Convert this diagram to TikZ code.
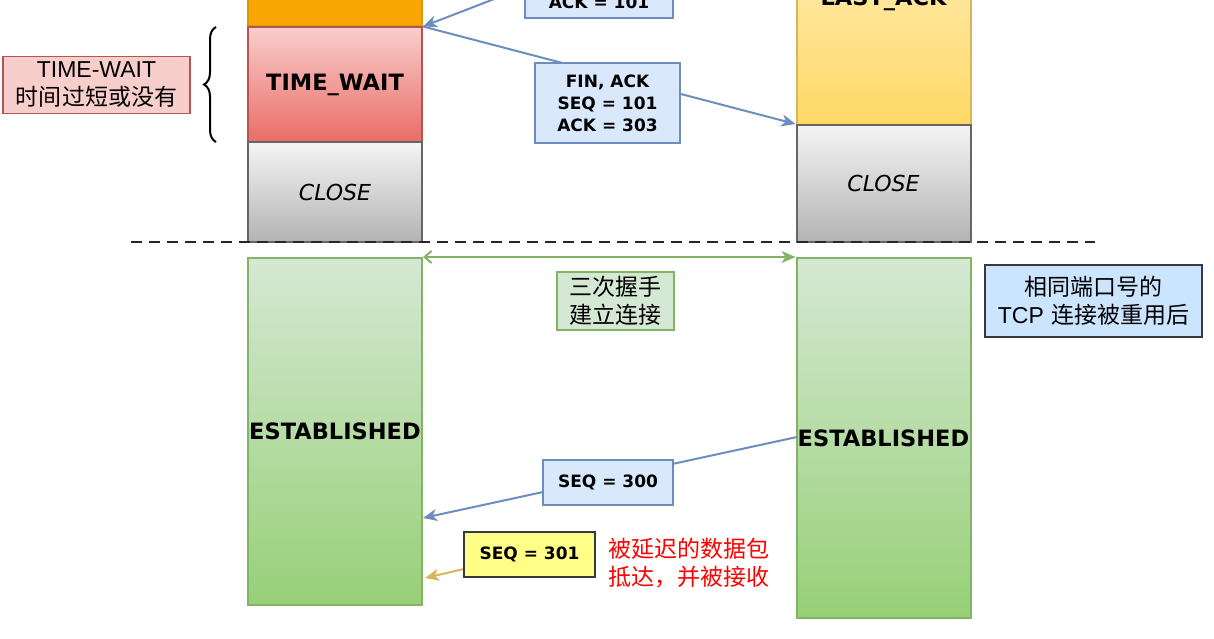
\documentclass[tikz,border=0pt]{standalone}
\usepackage{fontspec}
\setmainfont{DejaVu Sans}
\newfontfamily\cjk{Noto Sans CJK SC}
\newfontfamily\lib{Liberation Sans}
\usetikzlibrary{arrows.meta,decorations.pathreplacing}
\definecolor{orFill}{HTML}{F9A602}
\definecolor{orLine}{HTML}{D79B00}
\definecolor{twTop}{HTML}{F8CECC}
\definecolor{twBot}{HTML}{EA6B66}
\definecolor{twLine}{HTML}{B85450}
\definecolor{clTop}{HTML}{F5F5F5}
\definecolor{clBot}{HTML}{B3B3B3}
\definecolor{clLine}{HTML}{666666}
\definecolor{laTop}{HTML}{FFF2CC}
\definecolor{laBot}{HTML}{FFD966}
\definecolor{laLine}{HTML}{D6B656}
\definecolor{esTop}{HTML}{D5E8D4}
\definecolor{esBot}{HTML}{97D077}
\definecolor{esLine}{HTML}{82B366}
\definecolor{blFill}{HTML}{DAE8FC}
\definecolor{blLine}{HTML}{6C8EBF}
\definecolor{ylFill}{HTML}{FFFF88}
\definecolor{dkLine}{HTML}{36393D}
\definecolor{rsFill}{HTML}{CCE5FF}
\definecolor{tan}{HTML}{D6B656}
\newcommand\statefnt{\fontsize{22.5}{26}\selectfont\bfseries}
\newcommand\closefnt{\fontsize{22}{26}\selectfont\itshape}
\newcommand\msgfnt{\fontsize{17}{22}\selectfont\bfseries}
\newcommand\cjkfnt{\fontsize{23}{28}\selectfont}
\tikzset{
  statebox/.style={draw, line width=2pt, minimum width=174pt, inner sep=0pt, font=\statefnt},
  msgbox/.style={draw=blLine, fill=blFill, line width=2pt, inner sep=0pt, font=\msgfnt, align=center},
  msgtext/.style={inner sep=0pt, font=\msgfnt},
  cjkbox/.style={inner sep=0pt, font=\cjkfnt, align=center},
  bluearrow/.style={draw=blLine, line width=2pt, -{Stealth[length=14pt,width=12pt,inset=4pt]}},
  tanarrow/.style={draw=tan, line width=2pt, -{Stealth[length=14pt,width=12pt,inset=4pt]}},
  greenarrow/.style={draw=esLine, line width=2pt, {Straight Barb[length=7pt,width=12pt]}-{Stealth[length=14pt,width=12pt,inset=4pt]}},
}
\begin{document}
\begin{tikzpicture}[x=1pt,y=-1pt]
\useasboundingbox (0,0) rectangle (1214,639);
\clip (0,0) rectangle (1214,639);
% left column
\node[statebox, fill=orFill, draw=orLine, minimum height=110pt, anchor=south] (fw) at (335,27) {};
\node[statebox, top color=twTop, bottom color=twBot, draw=twLine, minimum height=115pt] (tw) at (335,85) {TIME\_WAIT};
\node[statebox, top color=clTop, bottom color=clBot, draw=clLine, minimum height=100pt, font=\closefnt] (cl1) at (335,192) {CLOSE};
\node[statebox, top color=esTop, bottom color=esBot, draw=esLine, minimum height=347pt] (es1) at (335,431.5) {ESTABLISHED};
% right column
\node[statebox, top color=laTop, bottom color=laBot, draw=laLine, minimum height=250pt] (la) at (883.5,0) {LAST\_ACK};
\node[statebox, top color=clTop, bottom color=clBot, draw=clLine, minimum height=117pt, font=\closefnt] (cl2) at (883.5,183.5) {CLOSE};
\node[statebox, top color=esTop, bottom color=esBot, draw=esLine, minimum height=360pt] (es2) at (883.5,438) {ESTABLISHED};
% separator
\coordinate (dl) at (131,242);
\coordinate (dr) at (1095,242);
\draw[line width=2.5pt, dash pattern=on 11pt off 7pt, black!85] (dl) -- (dr);
% connectors
\coordinate (ackfrom) at (797,-118);
\draw[bluearrow] (ackfrom) -- (tw.north east);
\draw[bluearrow] (tw.north east) -- (cl2.north west);
\coordinate (s300from) at (797,437);
\coordinate (s300to) at (423,518);
\draw[bluearrow] (s300from) -- (s300to);
\draw[greenarrow] (es1.north east) -- (es2.north west);
% message boxes
\node[msgbox, minimum width=148pt, minimum height=90pt, anchor=south] (ackbox) at (599,19) {};
\node[msgtext] (acktxt) at (599,2) {ACK = 101};
\node[msgbox, minimum width=145pt, minimum height=80pt] (fin) at (607.5,103) {FIN, ACK\\[0pt]SEQ = 101\\[0pt]ACK = 303};
\node[msgbox, minimum width=130pt, minimum height=45pt] (s300) at (608,482.5) {SEQ = 300};
\coordinate (s301to) at (425,578);
\coordinate (s301from) at (520,556);
\draw[tanarrow] (s301from) -- (s301to);
\node[msgbox, fill=ylFill, draw=dkLine, minimum width=131pt, minimum height=45pt] (s301) at (529.5,554.5) {SEQ = 301};
% labels
\node[cjkbox, fill=esTop, draw=esLine, line width=1.5pt, minimum width=117pt, minimum height=58pt] (hs) at (615.5,301) {\cjk 三次握手\\\cjk 建立连接};
\node[cjkbox, fill=rsFill, draw=dkLine, line width=2.5pt, minimum width=217pt, minimum height=72pt] (reuse) at (1093.5,301) {\cjk 相同端口号的\\{\lib TCP} \cjk 连接被重用后};
\node[cjkbox, fill=twTop, draw=twLine, line width=1.5pt, minimum width=187pt, minimum height=57pt] (twlab) at (96.5,85) {\lib TIME-WAIT\\\cjk 时间过短或没有};
\node[cjkbox, text=red, align=left] (late) at (689,563) {\cjk 被延迟的数据包\\\cjk 抵达，并被接收};
% brace
\coordinate (brb) at (216,142);
\coordinate (brt) at (216,27);
\draw[decorate, decoration={brace, amplitude=12pt}, line width=2pt] (brb) -- (brt);
\end{tikzpicture}
\end{document}
